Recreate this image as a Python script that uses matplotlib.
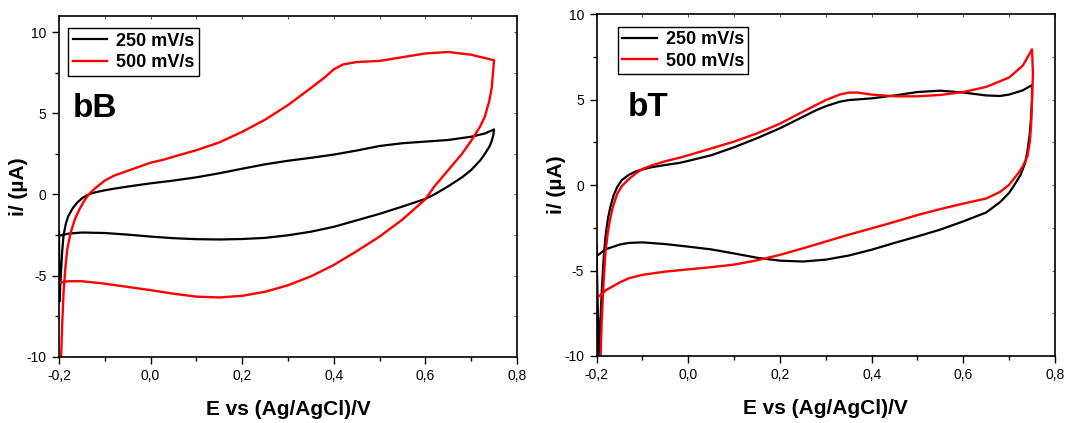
import matplotlib
matplotlib.use("Agg")
import matplotlib.pyplot as plt
from matplotlib.ticker import MultipleLocator, FuncFormatter

plt.rcParams['font.family'] = ['Liberation Sans', 'DejaVu Sans']

# bB, 250 mV/s
bB_250_E = [-0.2, -0.199, -0.196, -0.193, -0.19, -0.185, -0.18, -0.17, -0.16, -0.15, -0.14, -0.13, -0.12,
            -0.1, -0.08, -0.05, -0.02, 0.0, 0.05, 0.1, 0.15, 0.2, 0.25, 0.3, 0.35, 0.4, 0.45, 0.5, 0.55,
            0.6, 0.65, 0.7, 0.73, 0.75,
            0.748, 0.745, 0.74, 0.73, 0.72, 0.71, 0.7, 0.68, 0.65, 0.62, 0.6, 0.55, 0.5, 0.45, 0.4, 0.35,
            0.3, 0.25, 0.2, 0.15, 0.1, 0.05, 0.0, -0.05, -0.1, -0.15, -0.18, -0.2]
bB_250_i = [-2.3, -6.6, -5.0, -3.5, -2.5, -1.8, -1.35, -0.85, -0.5, -0.25, -0.07, 0.05, 0.13,
            0.25, 0.35, 0.48, 0.6, 0.68, 0.85, 1.05, 1.3, 1.58, 1.85, 2.07, 2.25, 2.45, 2.7, 2.98, 3.15,
            3.25, 3.35, 3.55, 3.75, 4.0,
            3.6, 3.3, 2.95, 2.5, 2.1, 1.8, 1.5, 1.05, 0.5, 0.0, -0.28, -0.75, -1.2, -1.6, -2.0, -2.3,
            -2.52, -2.68, -2.75, -2.78, -2.76, -2.7, -2.6, -2.48, -2.38, -2.35, -2.42, -2.55]

# bB, 500 mV/s
bB_500_E = [-0.196, -0.193, -0.19, -0.186, -0.182, -0.175, -0.165, -0.155, -0.145, -0.135, -0.12, -0.1,
            -0.08, -0.06, -0.03, 0.0, 0.03, 0.06, 0.1, 0.15, 0.2, 0.25, 0.3, 0.35, 0.38, 0.4, 0.42, 0.45,
            0.5, 0.55, 0.6, 0.65, 0.7, 0.75,
            0.748, 0.745, 0.74, 0.73, 0.72, 0.7, 0.68, 0.65, 0.62, 0.6, 0.55, 0.5, 0.45, 0.4, 0.35, 0.3,
            0.25, 0.2, 0.15, 0.1, 0.05, 0.0, -0.05, -0.1, -0.15, -0.18, -0.2, -0.2]
bB_500_i = [-10.5, -8.0, -6.0, -4.5, -3.4, -2.4, -1.5, -0.9, -0.4, 0.0, 0.4, 0.85,
            1.15, 1.35, 1.65, 1.95, 2.15, 2.4, 2.72, 3.2, 3.85, 4.6, 5.5, 6.55, 7.2, 7.7, 8.0, 8.15,
            8.22, 8.45, 8.68, 8.77, 8.6, 8.26,
            7.6, 6.6, 5.8, 4.8, 4.2, 3.3, 2.5, 1.5, 0.5, -0.3, -1.55, -2.6, -3.5, -4.35, -5.05, -5.6,
            -6.0, -6.25, -6.35, -6.3, -6.12, -5.9, -5.7, -5.5, -5.35, -5.35, -5.45, -5.0]

# bT, 250 mV/s
bT_250_E = [-0.2, -0.2, -0.195, -0.192, -0.188, -0.184, -0.18, -0.175, -0.17, -0.163, -0.155, -0.145, -0.13,
            -0.115, -0.1, -0.08, -0.05, -0.02, 0.0, 0.05, 0.1, 0.15, 0.2, 0.25, 0.28, 0.3, 0.33, 0.35,
            0.4, 0.45, 0.5, 0.55, 0.6, 0.65, 0.68, 0.7, 0.73, 0.75,
            0.75, 0.748, 0.745, 0.74, 0.735, 0.725, 0.71, 0.7, 0.68, 0.65, 0.6, 0.55, 0.5, 0.45, 0.4,
            0.35, 0.3, 0.25, 0.2, 0.15, 0.1, 0.05, 0.0, -0.05, -0.1, -0.13, -0.15, -0.18, -0.2]
bT_250_i = [-3.55, -4.15, -10.5, -8.0, -5.75, -4.0, -2.82, -1.9, -1.26, -0.6, -0.1, 0.3, 0.6,
            0.8, 0.92, 1.05, 1.18, 1.3, 1.42, 1.75, 2.22, 2.75, 3.33, 4.0, 4.4, 4.62, 4.88, 4.98,
            5.08, 5.25, 5.45, 5.53, 5.42, 5.25, 5.22, 5.3, 5.55, 5.86,
            5.0, 4.0, 3.0, 2.0, 1.3, 0.6, -0.05, -0.45, -1.0, -1.6, -2.12, -2.6, -3.0, -3.38, -3.78,
            -4.12, -4.36, -4.47, -4.42, -4.25, -4.0, -3.76, -3.6, -3.45, -3.35, -3.38, -3.48, -3.75, -4.15]

# bT, 500 mV/s
bT_500_E = [-0.192, -0.189, -0.185, -0.181, -0.176, -0.17, -0.165, -0.155, -0.145, -0.13, -0.115, -0.1,
            -0.08, -0.05, -0.02, 0.0, 0.05, 0.1, 0.15, 0.2, 0.25, 0.3, 0.33, 0.35, 0.37, 0.4, 0.45, 0.5,
            0.55, 0.6, 0.65, 0.7, 0.73, 0.75,
            0.752, 0.75, 0.748, 0.745, 0.74, 0.73, 0.72, 0.7, 0.68, 0.65, 0.6, 0.55, 0.5, 0.45, 0.4,
            0.35, 0.3, 0.25, 0.2, 0.15, 0.1, 0.05, 0.0, -0.05, -0.1, -0.13, -0.15, -0.18, -0.2, -0.2]
bT_500_i = [-10.5, -8.0, -5.75, -4.0, -2.82, -1.9, -1.3, -0.5, -0.05, 0.35, 0.68, 0.95,
            1.15, 1.4, 1.6, 1.75, 2.15, 2.55, 3.03, 3.6, 4.3, 4.98, 5.3, 5.42, 5.42, 5.3, 5.2, 5.2,
            5.28, 5.45, 5.75, 6.3, 7.0, 7.95,
            6.5, 5.0, 3.5, 2.5, 1.7, 1.1, 0.7, 0.02, -0.4, -0.78, -1.08, -1.4, -1.75, -2.15, -2.53,
            -2.9, -3.3, -3.7, -4.08, -4.4, -4.65, -4.8, -4.93, -5.06, -5.25, -5.45, -5.7, -6.15, -6.62, -5.4]

labels = ['250 mV/s', '500 mV/s']
x_ticks = [-0.2, 0.0, 0.2, 0.4, 0.6, 0.8]
y_ticks = [-10, -5, 0, 5, 10]


def comma(v, pos):
    return ('%.1f' % v).replace('.', ',')


def plotPanel(ax, E250, i250, E500, i500, name, ytop, lx, tx):
    ax.plot(E250, i250, color='black', lw=1.6)
    ax.plot(E500, i500, color='#ff0000', lw=1.7)
    ax.set_xlim(-0.2, 0.8)
    ax.set_ylim(-10, ytop)
    ax.set_xticks(x_ticks)
    ax.set_yticks(y_ticks)
    ax.xaxis.set_minor_locator(MultipleLocator(0.1))
    ax.yaxis.set_minor_locator(MultipleLocator(2.5))
    ax.xaxis.set_major_formatter(FuncFormatter(comma))
    ax.yaxis.set_major_formatter(FuncFormatter(lambda v, p: '%d' % v))
    ax.tick_params(which='major', direction='out', length=5, width=1, labelsize=10, pad=4)
    ax.tick_params(which='minor', direction='out', length=3, width=1)
    for s in ax.spines.values():
        s.set_linewidth(1.2)
    # faint ticks on top and right spines
    top = ax.secondary_xaxis('top')
    top.set_xticks([-0.2, -0.1, 0.0, 0.1, 0.2, 0.3, 0.4, 0.5, 0.6, 0.7, 0.8])
    top.tick_params(direction='in', length=2.5, width=0.7, colors='#555555', labeltop=False)
    top.spines['top'].set_visible(False)
    right = ax.secondary_yaxis('right')
    right.set_yticks([-10, -7.5, -5, -2.5, 0, 2.5, 5, 7.5, 10])
    right.tick_params(direction='in', length=2.5, width=0.7, colors='#555555', labelright=False)
    right.spines['right'].set_visible(False)

    ax.set_xlabel('E vs (Ag/AgCl)/V', fontsize=15, fontweight='bold', labelpad=12)
    ax.set_ylabel('i/ (\u00b5A)', fontsize=15, fontweight='bold', labelpad=-1)
    ax.text(tx, 0.703, name, transform=ax.transAxes, fontsize=24, fontweight='bold')
    leg = ax.legend(labels, loc='upper left', bbox_to_anchor=(lx, 0.964), borderaxespad=0,
                    fancybox=False, edgecolor='black', framealpha=1, borderpad=0.25,
                    labelspacing=0.25, handletextpad=0.5, handlelength=1.9,
                    prop={'weight': 'bold', 'size': 13})
    leg.get_frame().set_linewidth(1.0)


fig = plt.figure(figsize=(10.67, 4.23), dpi=100)
ax1 = fig.add_axes([0.0553, 0.1567, 0.4292, 0.806])
ax2 = fig.add_axes([0.5592, 0.1584, 0.4295, 0.8078])

plotPanel(ax1, bB_250_E, bB_250_i, bB_500_E, bB_500_i, 'bB', 11.0, 0.02, 0.031)
plotPanel(ax2, bT_250_E, bT_250_i, bT_500_E, bT_500_i, 'bT', 10.0, 0.046, 0.068)

fig.savefig('out.png', dpi=100)
